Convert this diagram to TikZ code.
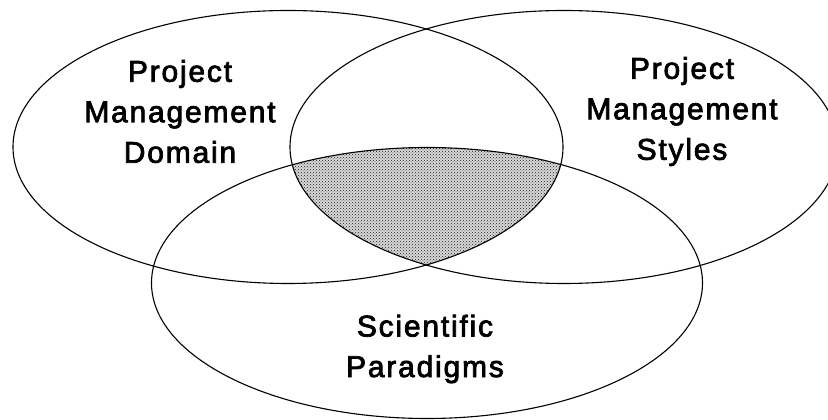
\documentclass[tikz,border=0pt]{standalone}
\usepackage{fontspec}
\newfontfamily\lblfont[LetterSpace=6,FakeBold=2.5]{Liberation Sans}
\usetikzlibrary{patterns}
\tikzset{
  venn/.style={draw=black, line width=1.1pt},
  lbl/.style={align=center, inner sep=0pt, font=\lblfont\fontsize{30}{40.5}\selectfont},
  shade/.style={pattern=crosshatch dots, pattern color=black!90}
}
\begin{document}
\begin{tikzpicture}[x=1pt,y=1pt]
\useasboundingbox (0,0) rectangle (828,420);
\clip (0,0) rectangle (828,420);
\fill[white] (0,0) rectangle (828,420);
% shaded triple intersection
\begin{scope}
  \clip (288,273) ellipse [x radius=275, y radius=136.5];
  \clip (564,273) ellipse [x radius=274, y radius=136.5];
  \fill[black!15] (427,137) ellipse [x radius=275.5, y radius=135.5];
  \fill[shade] (427,137) ellipse [x radius=275.5, y radius=135.5];
\end{scope}
% ellipses
\draw[venn] (288,273) ellipse [x radius=275, y radius=136.5];
\draw[venn] (564,273) ellipse [x radius=274, y radius=136.5];
\draw[venn] (427,137) ellipse [x radius=275.5, y radius=135.5];
% labels
\node[lbl] (domain) at (180,308.5) {Project\\Management\\Domain};
\node[lbl] (styles) at (682,308.5) {Project\\Management\\Styles};
\node[lbl] (paradigms) at (425,71) {Scientific\\Paradigms};
\end{tikzpicture}
\end{document}
